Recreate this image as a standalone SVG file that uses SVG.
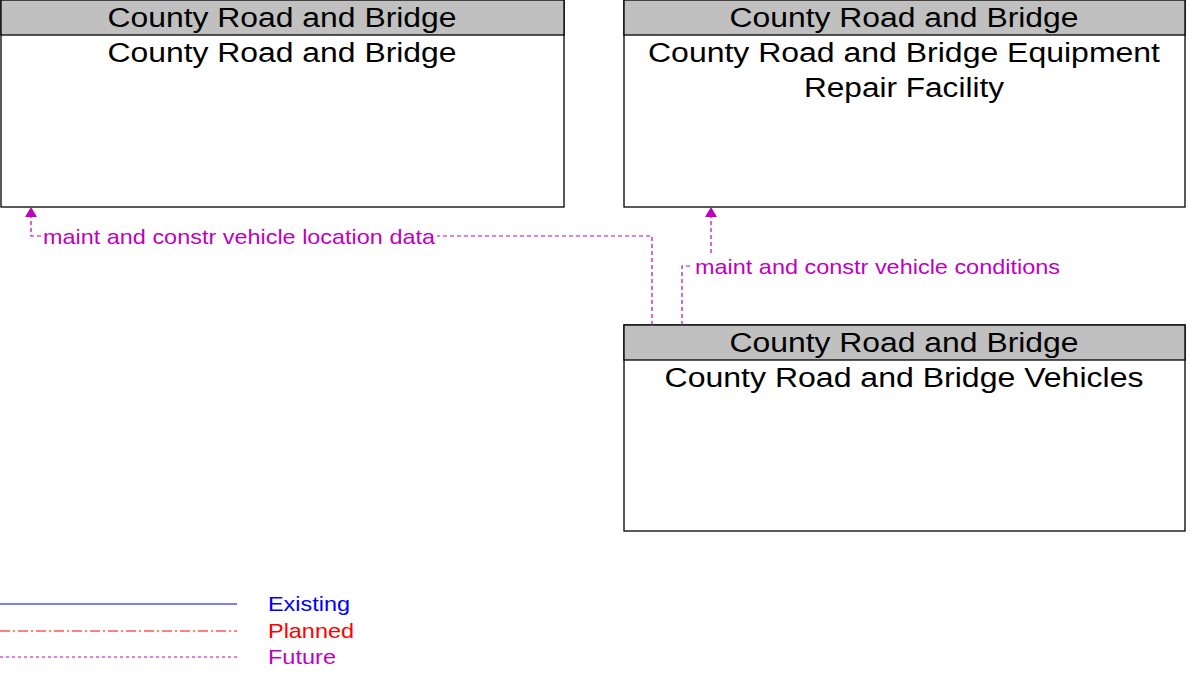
<svg xmlns="http://www.w3.org/2000/svg" width="1200" height="685" viewBox="0 0 1200 685">
<style>
.box{fill:#fff;stroke:#000;stroke-width:1.3}
.hdr{fill:#c0c0c0;stroke:#000;stroke-width:1.3}
.t{font-family:"Liberation Sans",Arial,sans-serif;font-size:27px;fill:#000;text-anchor:middle}
.lbl{font-family:"Liberation Sans",Arial,sans-serif;font-size:21px;fill:#c000c0}
.fut{fill:none;stroke:#c000c0;stroke-width:1.2;stroke-dasharray:4,3}
.ah{fill:#c000c0}
.leg{font-family:"Liberation Sans",Arial,sans-serif;font-size:21px}
</style>
<g id="node-crb">
<rect class="box" x="1" y="0" width="563" height="207"/>
<rect class="hdr" x="1" y="0" width="563" height="35"/>
<text class="t" x="282" y="27" textLength="349" lengthAdjust="spacingAndGlyphs">County Road and Bridge</text>
<text class="t" x="282" y="62" textLength="349" lengthAdjust="spacingAndGlyphs">County Road and Bridge</text>
</g>
<g id="node-repair">
<rect class="box" x="624" y="0" width="561" height="207"/>
<rect class="hdr" x="624" y="0" width="561" height="35"/>
<text class="t" x="904" y="27" textLength="349" lengthAdjust="spacingAndGlyphs">County Road and Bridge</text>
<text class="t" x="904" y="62" textLength="512" lengthAdjust="spacingAndGlyphs">County Road and Bridge Equipment</text>
<text class="t" x="904" y="97" textLength="200" lengthAdjust="spacingAndGlyphs">Repair Facility</text>
</g>
<g id="node-vehicles">
<rect class="box" x="624" y="325" width="561" height="206"/>
<rect class="hdr" x="624" y="325" width="561" height="35"/>
<text class="t" x="904" y="352" textLength="349" lengthAdjust="spacingAndGlyphs">County Road and Bridge</text>
<text class="t" x="904" y="387" textLength="479" lengthAdjust="spacingAndGlyphs">County Road and Bridge Vehicles</text>
</g>
<g id="connectors">
<path class="fut" d="M652,325 V236 H437"/>
<path class="fut" d="M41,236 H31 V216"/>
<polygon class="ah" points="31,207 25,217 37,217"/>
<text class="lbl" x="43" y="244" textLength="392" lengthAdjust="spacingAndGlyphs">maint and constr vehicle location data</text>
<path class="fut" d="M682,325 V266 H693"/>
<path class="fut" d="M711,253 V216"/>
<polygon class="ah" points="711,207 705,217 717,217"/>
<text class="lbl" x="695" y="274" textLength="365" lengthAdjust="spacingAndGlyphs">maint and constr vehicle conditions</text>
</g>
<g id="legend">
<line x1="0" y1="604" x2="237" y2="604" stroke="#0000ff" stroke-width="1.2"/>
<line x1="0" y1="631" x2="237" y2="631" stroke="#ff0000" stroke-width="1" stroke-dasharray="10,3,2,3"/>
<line x1="0" y1="657" x2="237" y2="657" stroke="#c000c0" stroke-width="1" stroke-dasharray="3,3"/>
<text class="leg" x="268" y="611" fill="#0000ff" textLength="82" lengthAdjust="spacingAndGlyphs">Existing</text>
<text class="leg" x="268" y="638" fill="#ff0000" textLength="86" lengthAdjust="spacingAndGlyphs">Planned</text>
<text class="leg" x="268" y="664" fill="#c000c0" textLength="68" lengthAdjust="spacingAndGlyphs">Future</text>
</g>
</svg>
